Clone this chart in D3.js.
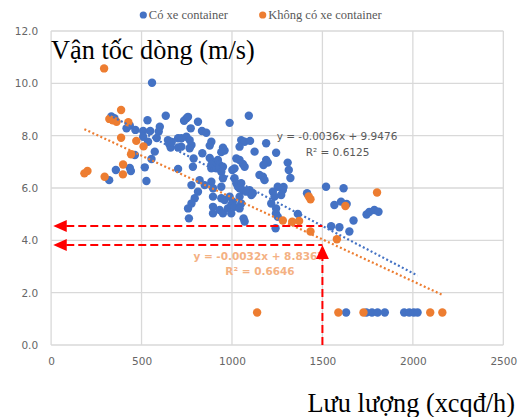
<!DOCTYPE html>
<html>
<head>
<meta charset="utf-8">
<script src="https://cdn.jsdelivr.net/npm/d3@7"></script>
<style>
  html, body { margin: 0; padding: 0; background: #fff; }
  svg { display: block; }
</style>
</head>
<body>
<svg id="chart" width="521" height="417"></svg>
<script>
// ---- Data ----
const seriesNames = ["Có xe container", "Không có xe container"];
const blueX = [558,634,533,333,350,417,435,466,509,548,601,595,509,536,584,646,653,661,702,702,
  573,555,463,518,435,441,358,321,527,702,748,735,757,812,772,834,858,987,1093,720,
  748,766,776,766,720,667,886,877,836,950,959,941,1051,1070,1100,1042,1125,1189,1244,1308,
  1314,1323,1189,1198,1174,877,895,922,932,950,913,886,886,941,1024,1042,1060,1070,1002,1014,
  788,784,821,776,849,886,895,950,941,1014,1024,1033,1051,1042,1060,1097,1152,1171,1253,1281,
  1272,794,895,941,1042,1107,812,959,987,1005,1051,1079,1115,776,757,895,932,895,950,977,
  996,1014,1042,996,762,1064,1070,1226,1235,1217,1244,1243,1253,1241,1364,1180,1285,
  1520,1617,1603,1566,1634,1415,1672,1548,1594,1649,1744,1759,1787,1810,
  1631,1743,1774,1805,1845,1952,1980,2005,2026];
const blueY = [10.02,8.76,8.59,8.73,8.67,8.28,8.39,8.22,8.18,8.18,8.34,8.16,7.96,7.77,7.91,7.83,7.68,7.55,7.90,7.55,
  7.39,7.11,7.26,6.79,6.77,6.65,6.69,6.30,6.27,6.73,8.66,8.57,8.72,8.53,8.28,8.18,8.11,8.49,8.76,7.90,
  7.96,7.83,7.64,7.52,7.58,7.76,7.77,7.62,7.33,7.54,7.43,7.37,7.83,7.77,7.80,7.58,7.39,7.71,7.35,6.97,
  6.69,6.38,7.07,6.97,6.88,7.15,7.00,7.07,6.88,6.81,6.75,6.88,6.75,6.62,7.13,7.07,6.92,6.81,6.69,6.75,
  7.13,6.81,6.30,6.11,6.11,6.24,5.99,6.37,6.05,6.37,6.18,6.05,6.18,5.99,5.92,5.92,6.50,6.43,6.05,5.92,
  5.73,5.61,5.67,5.61,5.67,5.73,5.86,5.54,5.67,5.48,5.41,5.86,5.80,5.41,5.22,5.28,5.16,5.03,5.03,5.22,
  5.35,5.28,5.22,5.03,4.84,4.84,4.72,5.86,5.67,5.41,5.22,5.03,4.90,4.46,5.01,6.30,6.04,
  6.05,5.99,5.48,5.35,5.39,5.80,4.76,4.54,4.50,4.34,4.99,5.08,5.16,5.09,
  1.24,1.24,1.24,1.24,1.24,1.24,1.24,1.24,1.24];
const orangeX = [293,387,322,341,362,427,387,471,511,442,398,397,296,201,184,
  1424,1434,1627,1802,1281,1333,1371,1434,1580,
  1139,1588,1727,2096,2163];
const orangeY = [10.57,8.98,8.64,8.59,8.53,8.51,7.92,7.80,7.59,7.29,6.90,6.52,6.43,6.65,6.56,
  5.68,5.57,5.31,5.83,4.76,4.71,4.74,4.34,4.04,
  1.24,1.24,1.24,1.24,1.24];
// trendlines: slope, intercept, labels
const blueTrend = {slope: -0.0036, intercept: 9.9476, eq: "y = -0.0036x + 9.9476", r2: "R² = 0.6125"};
const orangeTrend = {slope: -0.0032, intercept: 8.8367, eq: "y = -0.0032x + 8.8367", r2: "R² = 0.6646"};
const xTicks = [0, 500, 1000, 1500, 2000, 2500];
const yTicks = [0, 2, 4, 6, 8, 10, 12];
const yTitle = "Vận tốc dòng (m/s)";
const xTitle = "Lưu lượng (xcqđ/h)";
// red annotation: horizontal reading lines and the chosen flow
const readFlow = 1500;
const readSpeeds = [4.55, 3.82];
const arrowStartX = 12;

// ---- Drawing ----
const svg = d3.select("#chart");
const W = 521, H = 417;
svg.append("rect").attr("width", W).attr("height", H).attr("fill", "#fff");

const x = d3.scaleLinear().domain([0, 2500]).range([51.1, 503.3]);
const y = d3.scaleLinear().domain([0, 12]).range([345, 31]);
const blue = "#4472C4", orange = "#ED7D31", grid = "#D9D9D9", tickCol = "#666666";

// gridlines
const g = svg.append("g");
g.selectAll(".vg").data(xTicks).join("line")
  .attr("x1", d => x(d)).attr("x2", d => x(d)).attr("y1", y(0)).attr("y2", y(12))
  .attr("stroke", grid).attr("stroke-width", 1.3);
g.selectAll(".hg").data(yTicks).join("line")
  .attr("x1", x(0)).attr("x2", x(2500)).attr("y1", d => y(d)).attr("y2", d => y(d))
  .attr("stroke", grid).attr("stroke-width", 1.3);

// axes (labels only)
const xAxis = d3.axisBottom(x).tickValues(xTicks).tickSize(0).tickPadding(13).tickFormat(d3.format("d"));
const xa = svg.append("g").attr("transform", `translate(0,${y(0)})`).call(xAxis);
const yAxis = d3.axisLeft(y).tickValues(yTicks).tickSize(0).tickPadding(13).tickFormat(d3.format(".1f"));
const ya = svg.append("g").attr("transform", `translate(${x(0)},0)`).call(yAxis);
[xa, ya].forEach(a => {
  a.select(".domain").remove();
  a.selectAll("text").attr("fill", tickCol).style("font-family", "DejaVu Sans, sans-serif").style("font-size", "10.5px");
});

// titles
svg.append("text").attr("x", 51).attr("y", 59).text(yTitle)
  .style("font-family", "Liberation Serif, Times New Roman, serif").style("font-size", "26.3px").attr("fill", "#000");
svg.append("text").attr("x", 515).attr("y", 411.5).attr("text-anchor", "end").text(xTitle)
  .style("font-family", "Liberation Serif, Times New Roman, serif").style("font-size", "26.3px").attr("fill", "#000");

// legend
const legend = svg.append("g");
const legPos = [143.3, 262.7];
seriesNames.forEach((n, i) => {
  legend.append("circle").attr("cx", legPos[i]).attr("cy", 15).attr("r", 3.6).attr("fill", i === 0 ? blue : orange);
  legend.append("text").attr("x", legPos[i] + 5.5).attr("y", 19).text(n)
    .style("font-family", "Liberation Serif, Times New Roman, serif").style("font-size", "12.5px").attr("fill", "#595959");
});

// points
const blueData = blueX.map((v, i) => ({x: v, y: blueY[i]}));
const orangeData = orangeX.map((v, i) => ({x: v, y: orangeY[i]}));
svg.append("g").selectAll("circle").data(blueData).join("circle")
  .attr("cx", d => x(d.x)).attr("cy", d => y(d.y)).attr("r", 4.2).attr("fill", blue);
svg.append("g").selectAll("circle").data(orangeData).join("circle")
  .attr("cx", d => x(d.x)).attr("cy", d => y(d.y)).attr("r", 4.2).attr("fill", orange);

// trendlines
function trend(t, xs, col) {
  const x0 = d3.min(xs), x1 = d3.max(xs);
  svg.append("line")
    .attr("x1", x(x0)).attr("y1", y(t.intercept + t.slope * x0))
    .attr("x2", x(x1)).attr("y2", y(t.intercept + t.slope * x1))
    .attr("stroke", col).attr("stroke-width", 2.2).attr("stroke-dasharray", "2,2.4");
}
trend(blueTrend, blueX, blue);
trend(orangeTrend, orangeX, orange);

// trend labels
const lblFont = "DejaVu Sans, sans-serif";
svg.append("text").attr("x", 337).attr("y", 139.5).attr("text-anchor", "middle").text(blueTrend.eq)
  .style("font-family", lblFont).style("font-size", "10.5px").attr("fill", "#595959");
svg.append("text").attr("x", 337.5).attr("y", 156).attr("text-anchor", "middle").text(blueTrend.r2)
  .style("font-family", lblFont).style("font-size", "10.5px").attr("fill", "#595959");
svg.append("text").attr("x", 259).attr("y", 259.5).attr("text-anchor", "middle").text(orangeTrend.eq)
  .style("font-family", lblFont).style("font-size", "10.5px").style("font-weight", "bold").attr("fill", "#F4B183");
svg.append("text").attr("x", 260).attr("y", 275).attr("text-anchor", "middle").text(orangeTrend.r2)
  .style("font-family", lblFont).style("font-size", "10.5px").style("font-weight", "bold").attr("fill", "#F4B183");

// red annotation
const red = "#FF0000";
const ann = svg.append("g");
readSpeeds.forEach(s => {
  const yy = y(s), tip = x(arrowStartX);
  ann.append("line").attr("x1", tip + 13).attr("x2", x(readFlow)).attr("y1", yy).attr("y2", yy)
    .attr("stroke", red).attr("stroke-width", 2).attr("stroke-dasharray", "8,4");
  ann.append("path").attr("d", `M${tip},${yy} L${tip + 13.5},${yy - 6} L${tip + 13.5},${yy + 6} Z`).attr("fill", red);
});
const vx = x(readFlow), vTip = y(readSpeeds[1]);
ann.append("line").attr("x1", vx).attr("x2", vx).attr("y1", y(0)).attr("y2", vTip + 14)
  .attr("stroke", red).attr("stroke-width", 2).attr("stroke-dasharray", "8,4");
ann.append("path").attr("d", `M${vx},${vTip} L${vx - 6.5},${vTip + 14} L${vx + 6.5},${vTip + 14} Z`).attr("fill", red);
</script>
</body>
</html>
